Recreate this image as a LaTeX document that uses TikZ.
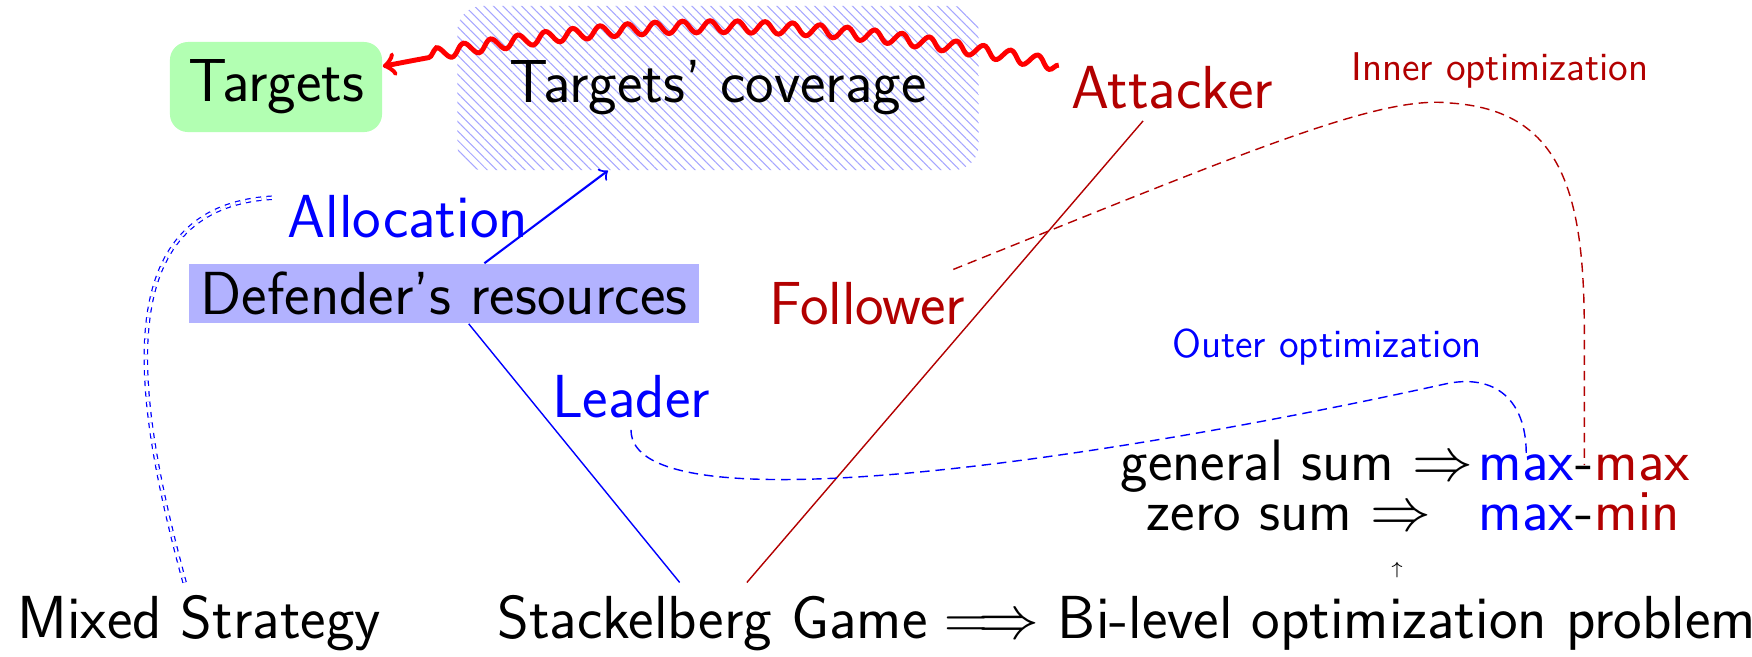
\documentclass[tikz,border=0pt]{standalone}
\usetikzlibrary{decorations.pathmorphing,patterns.meta}
\definecolor{dred}{RGB}{178,0,0}
\begin{document}
\begin{tikzpicture}[x=0.01cm,y=0.01cm,
  every node/.style={font=\sffamily\fontsize{17.28}{20}\selectfont},
  lbl/.style={anchor=base},
  small/.style={font=\sffamily\fontsize{11.4}{13}\selectfont},
  row/.style={inner sep=0pt, font=\sffamily\fontsize{16.6}{19}\selectfont},
  tgbox/.style={fill=green!30, rounded corners=0.18cm, minimum width=2.12cm, minimum height=0.90cm},
  covbox/.style={pattern={Lines[angle=-45,distance=1.9pt,line width=0.3pt]}, pattern color=blue!35,
     rounded corners=0.25cm, minimum width=5.21cm, minimum height=1.64cm},
  defbox/.style={fill=blue!30, inner xsep=0.12cm, inner ysep=0.08cm},
  dsh/.style={dash pattern=on 2.7pt off 1.7pt},
  dbl/.style={double, line width=0.35pt, double distance=0.6pt, dash pattern=on 1.5pt off 1.5pt},
  snk/.style={red, line width=1.4pt, ->, decorate,
     decoration={snake, amplitude=1.7pt, segment length=7.8pt, post length=10pt}}]
\useasboundingbox (0,0) rectangle (1752,-656);

% nodes
\node[tgbox] (tg) at (276,-87) {Targets};
\node[covbox] (cov) at (718,-88) {Targets’ coverage};
\node[lbl,text=dred] (att) at (1172,-108) {Attacker};
\node[lbl,small,text=dred] (inner) at (1500,-80) {Inner optimization};
\node[lbl,text=blue] (alloc) at (408,-237) {Allocation};
\node[defbox] (def) at (444,-293.5) {Defender’s resources};
\node[lbl,text=dred] (fol) at (867,-324) {Follower};
\node[lbl,text=blue] (lead) at (631,-417) {Leader};
\node[lbl,small,text=blue] (outer) at (1327,-357) {Outer optimization};

\node[row,anchor=base east] (gs) at (1474,-480) {general sum $\Rightarrow$};
\node[row,anchor=base west,text=blue] (mxA) at (1478,-480) {max};
\node[row,anchor=base west] (dA) at (mxA.base east) {-};
\node[row,anchor=base west,text=dred] (mxB) at (dA.base east) {max};

\node[row,anchor=base east] (zs) at (1432,-530) {zero sum $\Rightarrow$};
\node[row,anchor=base west,text=blue] (mxC) at (1478,-530) {max};
\node[row,anchor=base west] (dC) at (mxC.base east) {-};
\node[row,anchor=base west,text=dred] (mnC) at (dC.base east) {min};

\node[font=\fontsize{5.5}{6}\selectfont, inner sep=0pt] (up) at (1397,-570) {$\uparrow$};

\node[anchor=base west] (ms) at (5,-638) {Mixed Strategy};
\node[anchor=base west] (sg) at (485,-638) {Stackelberg Game};
\node[inner sep=0pt,anchor=base west] (bl) at ([xshift=0.04cm]sg.base east) {$\Longrightarrow$ Bi-level optimization problem};

% connectors
\draw[blue] (def) -- (sg);
\draw[dred] (att) -- (sg);
\draw[blue, semithick, ->] (def) -- (cov);
\draw[snk] (att) to[bend right=11] (tg);
\draw[dred, dsh] ([xshift=-0.24cm]fol.north east) .. controls (1250,-150) and (1380,-95) .. (1450,-103)
   .. controls (1560,-110) and (dA.north |- 0,-190) .. (dA.north |- 0,-330) -- (dA.north);
\draw[blue, dsh] (lead.south) .. controls (631,-530) and (1100,-460) .. (1445,-384)
   .. controls (1495,-373) and (mxA.north |- 0,-400) .. (mxA.north);
\draw[blue, dbl] (ms.110) .. controls (135,-400) and (105,-205) .. (alloc.172);
\end{tikzpicture}
\end{document}
